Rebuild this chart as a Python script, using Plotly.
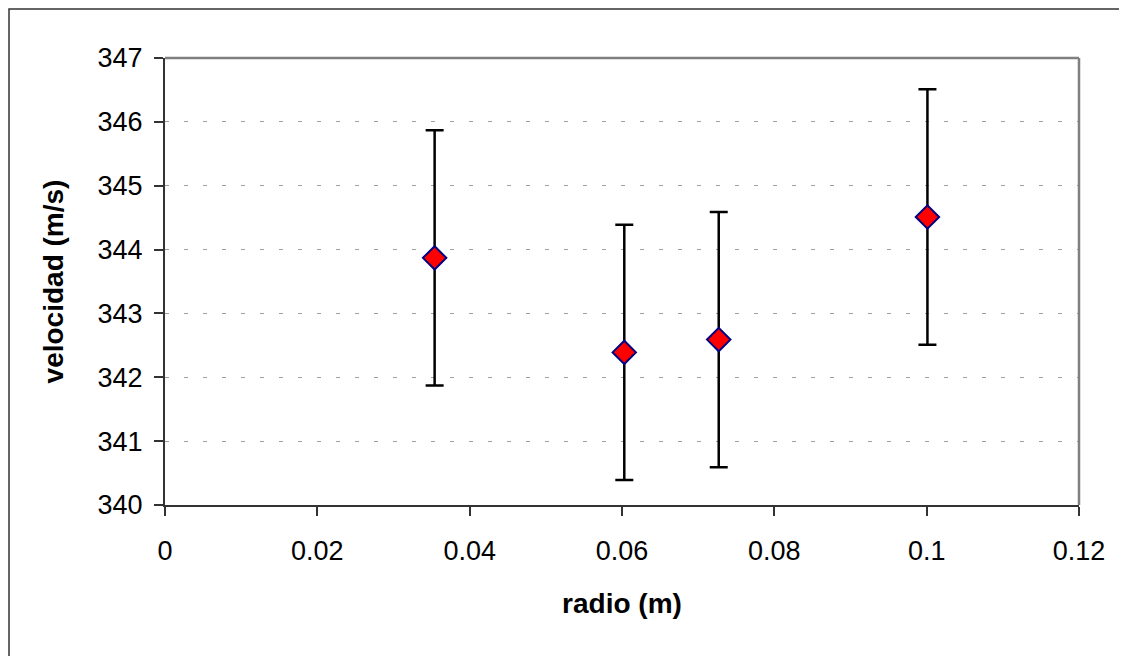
import plotly.graph_objects as go

radio = [0.0354, 0.0603, 0.0727, 0.1001]
velocidad = [343.87, 342.39, 342.59, 344.51]
error = [2.0, 2.0, 2.0, 2.0]

x_ticks = [0, 0.02, 0.04, 0.06, 0.08, 0.1, 0.12]
x_tick_labels = ["0", "0.02", "0.04", "0.06", "0.08", "0.1", "0.12"]
y_ticks = [340, 341, 342, 343, 344, 345, 346, 347]

FONT = "Liberation Sans, Arial, sans-serif"

ML, MT, PW, PH = 157, 50, 914, 447

fig = go.Figure()
fig.add_trace(go.Scatter(
    x=radio, y=velocidad, mode="markers",
    marker=dict(symbol="diamond", size=18, color="#FF0000",
                line=dict(color="#000080", width=2)),
    error_y=dict(type="data", array=error, visible=True,
                 color="black", thickness=2.5, width=9),
    showlegend=False,
))

fig.update_layout(
    width=1127, height=656,
    margin=dict(l=ML, r=1127 - ML - PW, t=MT, b=656 - MT - PH),
    paper_bgcolor="white", plot_bgcolor="white",
    font=dict(family=FONT, size=27, color="black"),
    xaxis=dict(
        range=[0, 0.12], tickvals=x_ticks, ticktext=x_tick_labels,
        showgrid=False, zeroline=False,
        showline=True, linecolor="#333333", linewidth=2,
        ticks="outside", ticklen=9, tickwidth=1.5, tickcolor="#333333",
        tickfont=dict(size=27),
        ticklabelstandoff=12,
        title=dict(text="<b>radio (m)</b>", font=dict(size=28), standoff=28),
    ),
    yaxis=dict(
        range=[340, 347], tickvals=y_ticks,
        showgrid=True, gridcolor="#A0A0A0", gridwidth=1, griddash="4px,15px",
        zeroline=False,
        showline=True, linecolor="#333333", linewidth=2,
        ticks="outside", ticklen=9, tickwidth=1.5, tickcolor="#333333",
        tickfont=dict(size=27),
        ticklabelstandoff=6,
        title=dict(text="<b>velocidad (m/s)</b>", font=dict(size=28), standoff=26),
    ),
)

# gray plot-area border on top and right
fig.add_shape(type="line", xref="paper", yref="paper", x0=0, x1=1, y0=1, y1=1,
              line=dict(color="#808080", width=2.5))
fig.add_shape(type="line", xref="paper", yref="paper", x0=1, x1=1, y0=0, y1=1,
              line=dict(color="#808080", width=2.5))
# outer chart border at the figure edge (right/bottom lie outside the window)
fig.add_shape(type="rect", xref="paper", yref="paper",
              x0=(1 - ML) / PW, x1=1.3, y0=-0.6, y1=(PH + MT - 1) / PH,
              line=dict(color="#333333", width=1.5), layer="below")

fig.write_html("out.html")
